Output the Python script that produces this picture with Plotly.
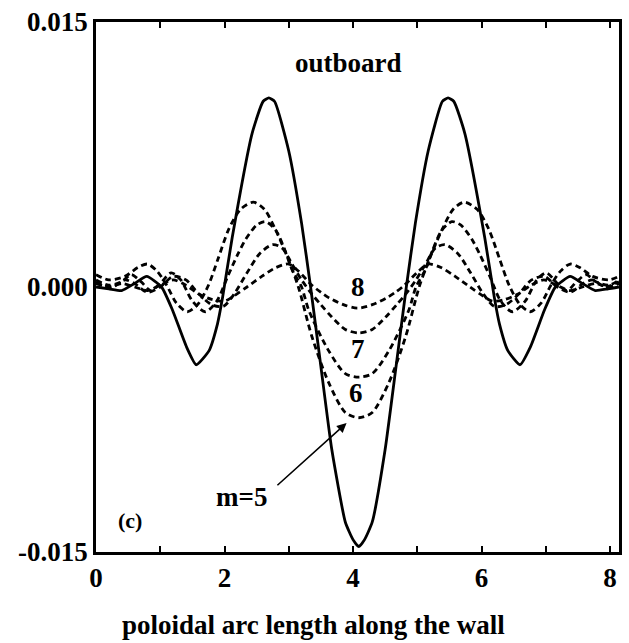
import plotly.graph_objects as go

# ---------------- data (y values in units of 1e-3) ----------------
total_x = [0, 0.2, 0.4, 0.6, 0.79, 1.02, 1.19, 1.41, 1.56, 1.76,
           1.89, 1.97, 2.12, 2.43, 2.6, 2.69, 2.78, 3.0, 3.2, 3.34,
           3.5, 3.67, 3.88, 4.0, 4.09, 4.18, 4.3, 4.5, 4.67, 4.83,
           4.97, 5.17, 5.39, 5.48, 5.57, 5.74, 6.05, 6.2, 6.28, 6.41,
           6.6, 6.76, 6.98, 7.15, 7.38, 7.57, 7.77, 7.97, 8.14]
total_y = [0.0, -0.1, -0.2, 0.2, 0.6, 0.0, -1.3, -3.4, -4.4, -3.6,
           -2.1, -0.6, 2.8, 8.7, 10.5, 10.7, 10.5, 7.7, 3.6, 0.0,
           -4.5, -9.2, -13.3, -14.3, -14.7, -14.3, -13.3, -9.2, -4.5, 0.0,
           3.6, 7.7, 10.5, 10.7, 10.5, 8.7, 2.8, -0.6, -2.1, -3.6,
           -4.4, -3.4, -1.3, 0.0, 0.6, 0.2, -0.2, -0.1, 0.0]

m5_x = [0, 0.2, 0.45, 0.65, 0.8, 0.95, 1.1, 1.25, 1.42, 1.58, 1.75, 1.9, 2.07, 2.25,
        2.45, 2.62, 2.8, 3.0, 3.15, 3.36, 3.62, 3.88, 4.09,
        4.3, 4.56, 4.82, 5.03, 5.18, 5.38, 5.56, 5.73, 5.93, 6.11, 6.28, 6.43, 6.6,
        6.76, 6.93, 7.08, 7.23, 7.38, 7.53, 7.73, 7.98, 8.14]
m5_y = [0.7, 0.4, 0.6, 1.1, 1.3, 0.9, 0.1, -0.9, -1.4, -1.0, 0.1, 1.6, 3.3, 4.4,
        4.8, 4.4, 3.2, 1.5, 0.0, -2.8, -5.4, -7.1, -7.4,
        -7.1, -5.4, -2.8, 0.0, 1.5, 3.2, 4.4, 4.8, 4.4, 3.3, 1.6, 0.1, -1.0,
        -1.4, -0.9, 0.1, 0.9, 1.3, 1.1, 0.6, 0.4, 0.6]

m6_x = [0, 0.2, 0.4, 0.55, 0.7, 0.85, 1.0, 1.17, 1.32, 1.5, 1.7, 1.88, 2.05, 2.2,
        2.33, 2.5, 2.64, 2.8, 2.95, 3.05, 3.2, 3.31, 3.62, 3.88, 4.09,
        4.3, 4.56, 4.87, 4.98, 5.13, 5.23, 5.38, 5.54, 5.68, 5.85, 5.98, 6.13, 6.3,
        6.48, 6.68, 6.86, 7.01, 7.18, 7.33, 7.48, 7.63, 7.78, 7.98, 8.14]
m6_y = [0.4, 0.1, 0.3, 0.7, 0.3, -0.2, 0.2, 0.8, 0.4, -0.8, -1.4, -0.8, 0.6, 1.8,
        2.7, 3.5, 3.7, 3.2, 2.0, 1.0, 0.0, -1.3, -3.6, -4.9, -5.1,
        -4.9, -3.6, -1.3, 0.0, 1.0, 2.0, 3.2, 3.7, 3.5, 2.7, 1.8, 0.6, -0.8,
        -1.4, -0.8, 0.4, 0.8, 0.2, -0.2, 0.3, 0.7, 0.3, 0.1, 0.4]

m7_x = [0, 0.25, 0.45, 0.6, 0.8, 1.0, 1.2, 1.4, 1.6, 1.8, 1.98, 2.15, 2.35, 2.55,
        2.75, 2.9, 3.05, 3.2, 3.36, 3.5, 3.67, 3.88, 4.09,
        4.3, 4.51, 4.68, 4.82, 4.98, 5.13, 5.28, 5.43, 5.63, 5.83, 6.03, 6.2, 6.38,
        6.58, 6.78, 6.98, 7.18, 7.38, 7.58, 7.73, 7.93, 8.14]
m7_y = [0.3, 0.0, 0.4, 0.2, -0.3, 0.0, 0.6, 0.4, -0.4, -1.0, -1.1, -0.4, 0.8, 1.9,
        2.4, 2.2, 1.3, 0.4, -0.4, -1.0, -1.7, -2.4, -2.6,
        -2.4, -1.7, -1.0, -0.4, 0.4, 1.3, 2.2, 2.4, 1.9, 0.8, -0.4, -1.1, -1.0,
        -0.4, 0.4, 0.6, 0.0, -0.3, 0.2, 0.4, 0.0, 0.3]

m8_x = [0, 0.2, 0.4, 0.6, 0.8, 1.0, 1.2, 1.4, 1.6, 1.8, 2.0, 2.15, 2.35, 2.58,
        2.8, 3.0, 3.15, 3.36, 3.5, 3.62, 3.85, 4.07,
        4.3, 4.53, 4.66, 4.8, 5.02, 5.17, 5.37, 5.59, 5.82, 6.02, 6.17, 6.37, 6.57,
        6.77, 6.97, 7.17, 7.37, 7.57, 7.77, 7.97, 8.14]
m8_y = [0.2, 0.0, 0.2, 0.0, -0.2, 0.1, 0.4, 0.1, -0.4, -0.7, -0.8, -0.5, 0.0, 0.6,
        1.1, 1.3, 0.9, 0.1, -0.3, -0.6, -1.0, -1.2,
        -1.0, -0.6, -0.3, 0.1, 0.9, 1.3, 1.1, 0.6, 0.0, -0.5, -0.8, -0.7, -0.4,
        0.1, 0.4, 0.1, -0.2, 0.0, 0.2, 0.0, 0.2]

x_tickvals = [0, 1, 2, 3, 4, 5, 6, 7, 8]
x_ticktext = ["0", "", "2", "", "4", "", "6", "", "8"]
y_tickvals = [-0.015, 0.0, 0.015]
y_ticktext = ["-0.015", "0.000", "0.015"]

SCALE = 1e-3
FONT = "Liberation Serif"

fig = go.Figure()

dashed = [(m8_x, m8_y), (m7_x, m7_y), (m6_x, m6_y), (m5_x, m5_y)]
for xs, ys in dashed:
    fig.add_trace(go.Scatter(
        x=xs, y=[v * SCALE for v in ys], mode="lines",
        line=dict(color="black", width=2.8, dash="6px,4px", shape="spline", smoothing=0.8),
        showlegend=False, hoverinfo="skip"))

fig.add_trace(go.Scatter(
    x=total_x, y=[v * SCALE for v in total_y], mode="lines",
    line=dict(color="black", width=2.8, shape="spline", smoothing=0.5),
    showlegend=False, hoverinfo="skip"))

fig.update_layout(
    width=629, height=643,
    margin=dict(l=96, r=7, t=21, b=91),
    paper_bgcolor="white", plot_bgcolor="white",
    font=dict(family=FONT, size=27, color="black", weight="bold"),
    showlegend=False,
)

fig.update_xaxes(
    range=[0, 8.14], tickvals=x_tickvals, ticktext=x_ticktext,
    ticks="inside", ticklen=6, tickwidth=2, tickcolor="black",
    showline=True, linewidth=2.5, linecolor="black", mirror="ticks",
    showgrid=False, zeroline=False,
    tickfont=dict(family=FONT, size=27, weight="bold"),
)
fig.update_yaxes(
    range=[-0.015, 0.015], tickvals=y_tickvals, ticktext=y_ticktext,
    ticks="", showline=True, linewidth=2.5, linecolor="black", mirror=True,
    showgrid=False, zeroline=False,
    tickfont=dict(family=FONT, size=27, weight="bold"),
)

ann_font = dict(family=FONT, size=27, color="black", weight="bold")
fig.add_annotation(x=3.93, y=0.0127, text="outboard", showarrow=False, font=ann_font)
fig.add_annotation(x=4.07, y=0.0000, text="8", showarrow=False, font=ann_font)
fig.add_annotation(x=4.07, y=-0.0035, text="7", showarrow=False, font=ann_font)
fig.add_annotation(x=4.04, y=-0.0060, text="6", showarrow=False, font=ann_font)
fig.add_annotation(x=2.26, y=-0.0119, text="m=5", showarrow=False, font=ann_font)
fig.add_annotation(x=0.53, y=-0.0132, text="(c)", showarrow=False,
                   font=dict(family=FONT, size=22, color="black", weight="bold"))
fig.add_annotation(x=3.90, y=-0.0077, ax=2.80, ay=-0.0113, axref="x", ayref="y",
                   xref="x", yref="y", text="", showarrow=True,
                   arrowhead=2, arrowsize=1.2, arrowwidth=1.6, arrowcolor="black")
fig.add_annotation(x=0.416, y=-0.137, xref="paper", yref="paper",
                   xanchor="center", yanchor="middle",
                   text="poloidal arc length along the wall",
                   showarrow=False, font=ann_font)

fig.write_html("out.html")
